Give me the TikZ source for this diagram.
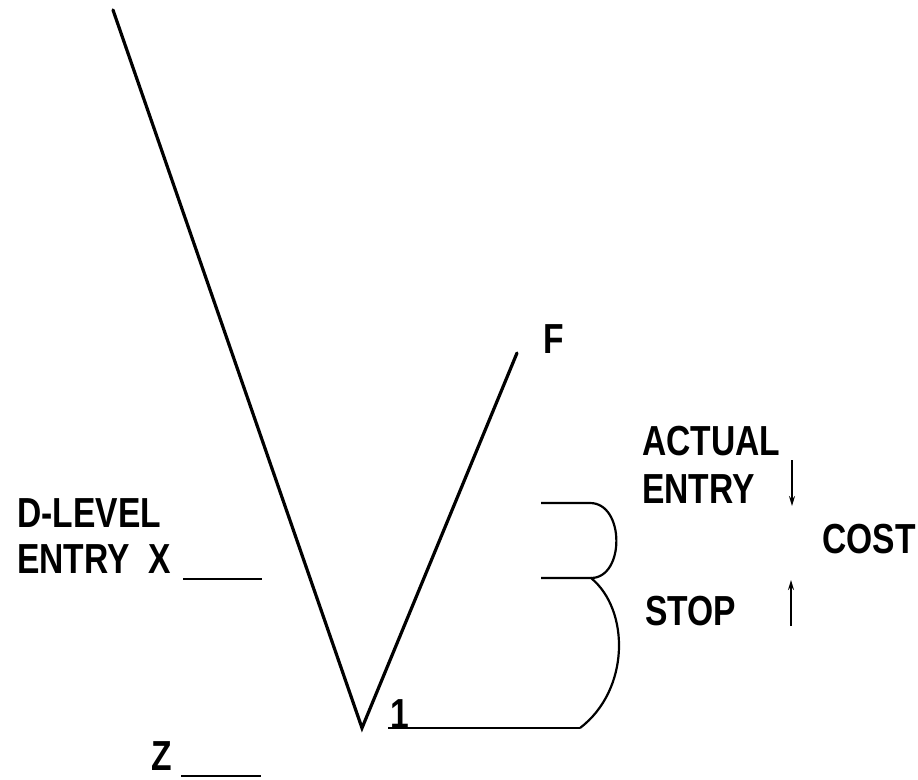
\documentclass[tikz,border=0pt]{standalone}
\usepackage{fontspec}
\setmainfont{Liberation Sans}[FakeStretch=0.8]
\usetikzlibrary{arrows.meta}
\begin{document}
\begin{tikzpicture}[x=1pt,y=-1pt,
  lbl/.style={inner sep=0pt,font=\fontsize{42}{46}\selectfont\bfseries},
  main/.style={line width=3.2pt},
  thin/.style={line width=2.2pt},
  tick/.style={line width=1.6pt,-{Stealth[length=10pt,width=6pt]}}]
\useasboundingbox (0,0) rectangle (918,779);
% coordinates
\coordinate (top) at (113,10);
\coordinate (tip) at (362,728);
\coordinate (ftop) at (517,353);
\coordinate (oneL) at (388,728);
\coordinate (oneR) at (580,728);
\coordinate (xL) at (183,579);
\coordinate (xR) at (262,579);
\coordinate (zL) at (181,776);
\coordinate (zR) at (261,776);
\coordinate (aL) at (541,503);
\coordinate (aR) at (590,503);
\coordinate (sL) at (541,578);
\coordinate (sR) at (591,578);
\coordinate (dnA) at (792,460);
\coordinate (dnB) at (792,506);
\coordinate (upA) at (791,626);
\coordinate (upB) at (791,580);
% lines
\draw[main,line cap=round] (top) -- (tip) -- (ftop);
\draw[thin] (oneL) -- (oneR);
\draw[thin] (xL) -- (xR);
\draw[thin] (zL) -- (zR);
\draw[thin] (aL) -- (aR) .. controls (625,503) and (625,578) .. (sR);
\draw[thin] (sL) -- (sR) .. controls (630,610) and (630,690) .. (oneR);
\draw[tick] (dnA) -- (dnB);
\draw[tick] (upA) -- (upB);
% labels
\node[lbl,anchor=base west] (F) at (543,353) {F};
\node[lbl,anchor=base west] (one) at (390,728) {1};
\node[lbl,anchor=base west] (actual) at (642,455) {ACTUAL};
\node[lbl,anchor=base west] (entry) at (642,503) {ENTRY};
\node[lbl,anchor=base west] (stop) at (645,625) {STOP};
\node[lbl,anchor=base west] (cost) at (822,553) {COST};
\node[lbl,anchor=base west] (dlevel) at (17,527) {D-LEVEL};
\node[lbl,anchor=base west] (entryx) at (17,573) {ENTRY\hspace{0.45em}X};
\node[lbl,anchor=base east] (z) at (172,770) {Z};
\end{tikzpicture}
\end{document}
